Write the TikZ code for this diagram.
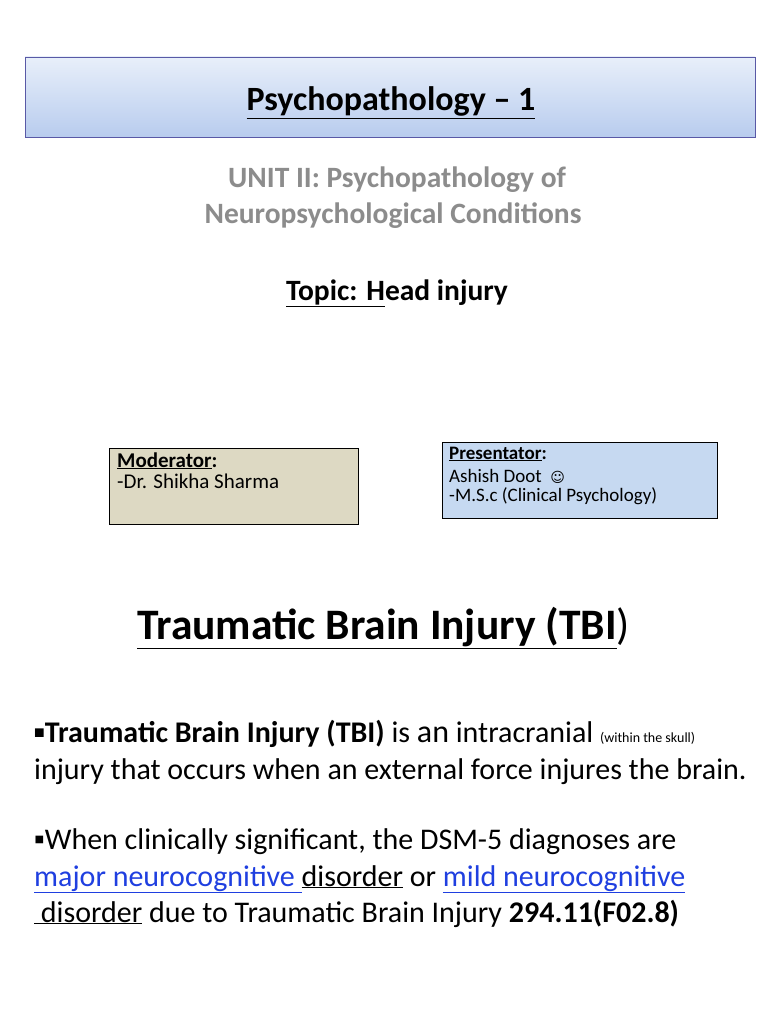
\documentclass[tikz,border=0pt]{standalone}
\usepackage{fontspec}
\setmainfont{Carlito}
\newfontfamily\dejavu{DejaVu Sans}
\newcommand\myul[1]{\underline{#1}}
\definecolor{linkblue}{HTML}{1F3FE0}
\definecolor{unitgray}{HTML}{8C8C8C}
\definecolor{boxtop}{RGB}{232,239,250}
\definecolor{boxbot}{RGB}{184,204,238}
\begin{document}
\begin{tikzpicture}[x=1pt,y=-1pt,
  txt/.style={inner sep=0pt,anchor=base west},
  ctxt/.style={inner sep=0pt,anchor=base}]
\useasboundingbox (0,0) rectangle (768,1024);
\fill[white] (0,0) rectangle (768,1024);
\shade[top color=boxtop, bottom color=boxbot, draw=blue!30!gray] (25,57) rectangle (755,137);
\node[ctxt,font=\bfseries\fontsize{34}{38}\selectfont] (title) at (391,111) {\myul{Psychopathology – 1}};
\node[ctxt,font=\bfseries\fontsize{29.5}{32}\selectfont,text=unitgray] (u1) at (397,188) {UNIT II: Psychopathology of};
\node[ctxt,font=\bfseries\fontsize{29.5}{32}\selectfont,text=unitgray] (u2) at (393,223) {Neuropsychological Conditions};
\node[ctxt,font=\bfseries\fontsize{29.5}{32}\selectfont] (topic) at (397,300) {\myul{Topic: H}ead injury};
\draw[fill={rgb,255:red,221;green,217;blue,195}] (109,448) rectangle (358,524);
\node[txt,font=\fontsize{21}{24}\selectfont] (m1) at (117,467) {\textbf{\myul{Moderator}:}};
\node[txt,font=\fontsize{21}{24}\selectfont] (m2) at (117,488) {-Dr. Shikha Sharma};
\draw[fill={rgb,255:red,198;green,217;blue,241}] (442,442) rectangle (717,518);
\node[txt,font=\fontsize{19}{22}\selectfont] (p1) at (449,459) {\textbf{\myul{Presentator}:}};
\node[txt,font=\fontsize{19}{22}\selectfont] (p2) at (449,482) {Ashish Doot\ \ {\dejavu\fontsize{14}{16}\selectfont ☺}};
\node[txt,font=\fontsize{19}{22}\selectfont] (p3) at (449,501) {-M.S.c (Clinical Psychology)};
\node[txt,font=\fontsize{43.5}{48}\selectfont] (tbi) at (137,639) {\textbf{\myul{Traumatic Brain Injury (TBI}})};
\node[txt,font=\fontsize{30}{34}\selectfont] (a1) at (34,742) {\textbf{▪Traumatic Brain Injury (TBI)} is {\fontsize{32}{34}\selectfont an} intracranial {\fontsize{14}{16}\selectfont (within the skull)}};
\node[txt,font=\fontsize{30}{34}\selectfont] (a2) at (34,779) {injury that occurs when an external force injures the brain.};
\node[txt,font=\fontsize{30}{34}\selectfont] (b1) at (34,849) {▪When clinically significant, the DSM-5 diagnoses are};
\node[txt,font=\fontsize{30}{34}\selectfont] (b2) at (34,886) {\textcolor{linkblue}{\myul{major neurocognitive }}\myul{disorder} or \textcolor{linkblue}{\myul{mild neurocognitive}}};
\node[txt,font=\fontsize{30}{34}\selectfont] (b3) at (34,922) {\myul{\ disorder} due to Traumatic Brain Injury \textbf{294.11(F02.8)}};
\end{tikzpicture}
\end{document}
